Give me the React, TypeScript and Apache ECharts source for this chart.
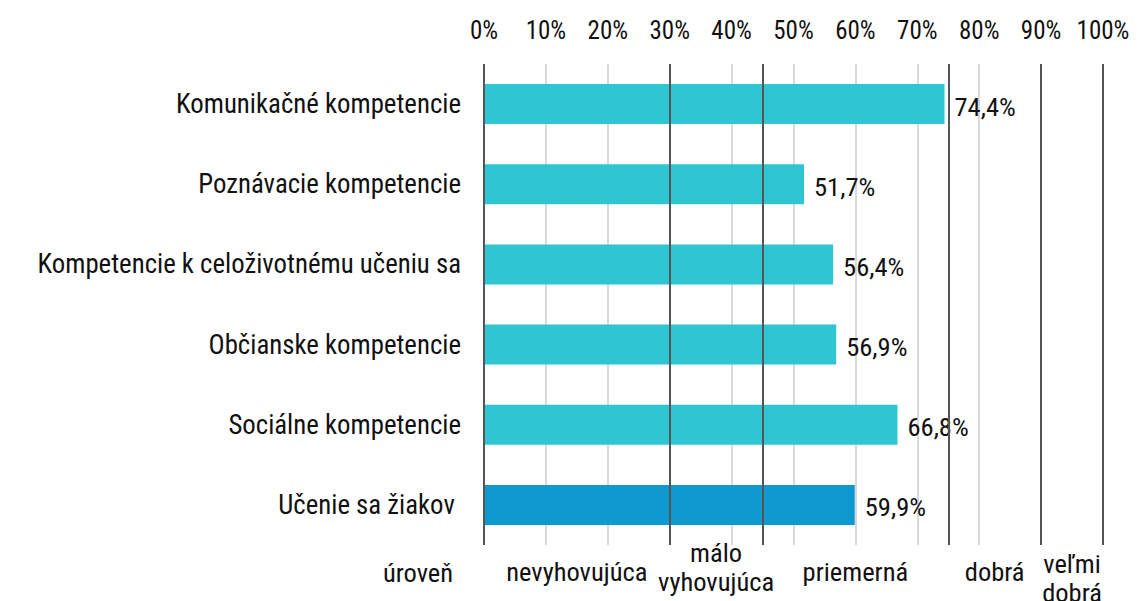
import React, { useEffect, useRef } from "react";
import * as echarts from "echarts";

const categories = [
  "Komunikačné kompetencie",
  "Poznávacie kompetencie",
  "Kompetencie k celoživotnému učeniu sa",
  "Občianske kompetencie",
  "Sociálne kompetencie",
  "Učenie sa žiakov ",
];
const values = [74.4, 51.7, 56.4, 56.9, 66.8, 59.9];
const highlightIndex = 5;
const levelBounds = [0, 30, 45, 75, 90, 100];
const levelNames = ["nevyhovujúca", "málo\nvyhovujúca", "priemerná", "dobrá", "veľmi\ndobrá"];
const levelTitle = "úroveň";

const FONT = "'Roboto Condensed', Roboto, sans-serif";
const CYAN = "#2ec6d2";
const BLUE = "#0e9ad0";
const TEXT = "#111";

export default function App() {
  const ref = useRef<HTMLDivElement>(null);
  useEffect(() => {
    if (!ref.current) return;
    const chart = echarts.init(ref.current, undefined, { renderer: "svg" });
    chart.setOption({
      animation: false,
      grid: { left: 484, right: 36, top: 64, bottom: 56, containLabel: false },
      xAxis: {
        type: "value",
        position: "top",
        min: 0,
        max: 100,
        interval: 10,
        axisLine: { show: false },
        axisTick: { show: false },
        axisLabel: {
          margin: 21,
          fontFamily: FONT,
          fontSize: 25,
          color: TEXT,
          formatter: (v: number) => `${v}%`,
        },
        splitLine: { show: true, lineStyle: { color: "#d9d9d9", width: 2 } },
      },
      yAxis: {
        type: "category",
        data: categories,
        inverse: true,
        axisLine: { show: false },
        axisTick: { show: false },
        axisLabel: { margin: 23, fontFamily: FONT, fontSize: 26.8, color: TEXT },
      },
      series: [
        {
          type: "bar",
          barWidth: 40,
          data: values.map((v, i) => ({
            value: v,
            itemStyle: { color: i === highlightIndex ? BLUE : CYAN },
          })),
          label: {
            show: true,
            position: "right",
            distance: 10,
            offset: [0, 2],
            fontFamily: FONT,
            fontSize: 26.5,
            color: TEXT,
            formatter: (p: any) => `${p.value.toFixed(1).replace(".", ",")}%`,
          },
          markLine: {
            silent: true,
            symbol: "none",
            label: { show: false },
            lineStyle: { color: "#555", width: 2, type: "solid" },
            data: levelBounds.map((b) => ({ xAxis: b })),
          },
          z: 2,
        },
      ],
    });

    const toX = (v: number) => chart.convertToPixel({ xAxisIndex: 0 }, v) as number;
    const graphics: any[] = [];
    levelNames.forEach((name, i) => {
      const cx = (toX(levelBounds[i]) + toX(levelBounds[i + 1])) / 2;
      const twoLine = name.includes("\n");
      const lastCol = i === levelNames.length - 1;
      graphics.push({
        type: "text",
        x: cx,
        y: twoLine ? (lastCol ? 578 : 567) : 571,
        style: {
          text: name,
          fontFamily: FONT,
          fontSize: 26.5,
          lineHeight: 29,
          fill: TEXT,
          align: "center",
          verticalAlign: "middle",
        },
      });
    });
    graphics.push({
      type: "text",
      x: 418,
      y: 572,
      style: {
        text: levelTitle,
        fontFamily: FONT,
        fontSize: 26.5,
        fill: TEXT,
        align: "center",
        verticalAlign: "middle",
      },
    });
    chart.setOption({ graphic: graphics });

    return () => chart.dispose();
  }, []);
  return (
    <div
      ref={ref}
      style={{ position: "fixed", left: 0, top: 0, width: 1139, height: 601, background: "#fff" }}
    />
  );
}
